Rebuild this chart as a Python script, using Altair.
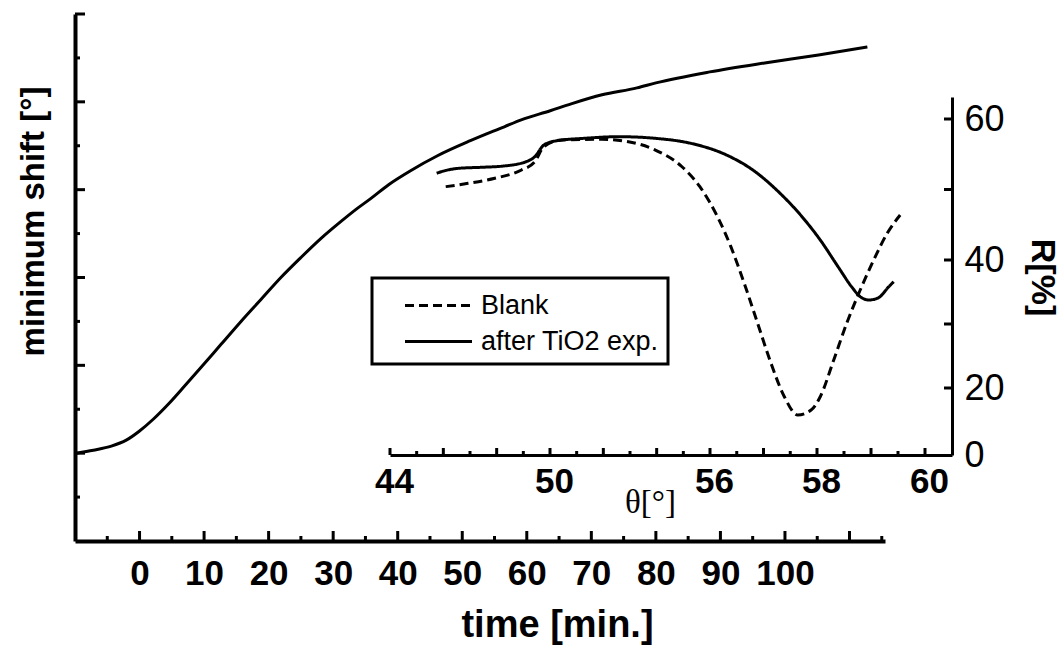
import altair as alt
import pandas as pd

# ---------------- data ----------------
# main curve: time [min.] vs minimum shift (arbitrary units, one major tick = 1)
time_min = [-9.78, -7.16, -4.37, -2.06, -0.05, 2.12, 4.59, 7.22, 9.54, 12.63, 15.72,
            18.81, 21.90, 24.99, 28.08, 31.17, 33.49, 35.81, 38.59, 41.99, 46.16,
            51.26, 56.52, 59.14, 63.63, 66.87, 71.66, 77.07, 80.01, 88.35, 96.86,
            105.20, 112.77]
min_shift = [0.000, 0.034, 0.080, 0.148, 0.250, 0.386, 0.568, 0.784, 0.977, 1.239,
             1.500, 1.750, 2.000, 2.227, 2.443, 2.636, 2.773, 2.898, 3.057, 3.216,
             3.386, 3.557, 3.716, 3.795, 3.898, 3.977, 4.080, 4.159, 4.216, 4.341,
             4.443, 4.534, 4.625]

# inset: reflectivity R[%] vs angle theta[deg]
theta_after = [45.75, 45.92, 46.59, 47.43, 48.26, 49.10, 49.43, 49.77, 50.26, 51.28,
               52.61, 53.94, 55.28, 56.31, 56.80, 57.31, 57.72, 58.06, 58.39, 58.64,
               58.80, 58.96, 59.13, 59.33, 59.42]
R_after = [52.30, 52.52, 53.01, 53.15, 53.33, 53.94, 54.65, 56.31, 56.92, 57.26,
           57.49, 57.26, 56.55, 54.89, 52.77, 49.46, 46.14, 42.84, 38.95, 35.83,
           34.27, 33.75, 34.06, 35.83, 36.61]
theta_blank = [46.09, 46.93, 47.93, 48.93, 49.43, 49.77, 50.44, 51.94, 52.94, 53.95,
               54.95, 55.62, 56.14, 56.39, 56.64, 56.89, 57.14, 57.39, 57.64, 57.89,
               58.06, 58.31, 58.55, 58.80, 59.05, 59.30, 59.54]
R_blank = [50.40, 50.88, 51.59, 52.77, 53.94, 56.07, 57.02, 57.12, 56.78, 55.60,
           53.23, 50.40, 46.14, 41.89, 36.36, 30.11, 23.86, 17.40, 11.94, 13.43,
           17.40, 24.38, 30.11, 35.31, 40.00, 43.79, 46.38]
series_names = ["Blank", "after TiO2 exp."]

# tick values
time_labels = [0, 10, 20, 30, 40, 50, 60, 70, 80, 90, 100]
time_major = [0, 10, 20, 30, 40, 50, 60, 70, 80, 90, 100, 110]
time_minor = [-5, 5, 15, 25, 35, 45, 55, 65, 75, 85, 95, 105, 115]
shift_major = [0, 1, 2, 3, 4, 5]
shift_minor = [-0.5, 0.5, 1.5, 2.5, 3.5, 4.5]
theta_labels = [44, 50, 56, 58, 60]
theta_major = [44, 46, 48, 50, 52, 54, 56, 57, 58, 59, 60]
theta_minor = [45, 47, 49, 51, 53, 55, 56.5, 57.5, 58.5, 59.5]
R_labels = [0, 20, 40, 60]
R_ticks = [20, 30, 40, 50, 60]

# ---------------- layout / style ----------------
W, H = 810, 527
SANS = "Liberation Sans"
SERIF = "Liberation Serif"
NBSP_PAD = "\u00a0" * 6


def x_main():
    return alt.Scale(domain=[-10, 115.5], nice=False, zero=False)


def y_main():
    return alt.Scale(domain=[-1, 5], nice=False, zero=False)


# the inset axes of the figure are not evenly labelled -> piecewise scales
def x_in():
    return alt.Scale(domain=[44, 50, 56, 58, 60.5], range=[315, 475, 635, 742, 877],
                     nice=False, zero=False)


def y_in():
    return alt.Scale(domain=[0, 20, 40, 60, 63.1], range=[441, 374, 246, 105, 83],
                     nice=False, zero=False)


main_df = pd.DataFrame({"t": time_min, "s": min_shift})
main_line = alt.Chart(main_df).mark_line(
    color="black", strokeWidth=3, interpolate="monotone"
).encode(
    x=alt.X("t:Q", scale=x_main(), axis=alt.Axis(
        orient="bottom", values=time_labels, ticks=False, grid=False,
        domainColor="black", domainWidth=4, labelFlush=False, labelOverlap=False,
        labelFont=SANS, labelFontSize=35, labelFontWeight="bold", labelColor="black",
        labelPadding=15, title="time [min.]", titleFont=SANS, titleFontSize=38,
        titleFontWeight="bold", titleColor="black", titleX=482, titleY=95,
        titleBaseline="alphabetic", titleAlign="center")),
    y=alt.Y("s:Q", scale=y_main(), axis=alt.Axis(
        orient="left", labels=False, ticks=False, grid=False,
        domainColor="black", domainWidth=4, title="minimum shift [°]",
        titleFont=SANS, titleFontSize=33, titleFontWeight="bold", titleColor="black",
        titleX=-42, titleY=207, titleBaseline="middle", titleAngle=270,
        titleAlign="center")),
)


def vrule(values, scale, y0, y1, width=3):
    return alt.Chart(pd.DataFrame({"v": values})).mark_rule(
        color="black", strokeWidth=width
    ).encode(x=alt.X("v:Q", scale=scale, axis=None),
             y=alt.value(y0), y2=alt.value(y1))


def hrule(values, scale, x0, x1, width=3):
    return alt.Chart(pd.DataFrame({"v": values})).mark_rule(
        color="black", strokeWidth=width
    ).encode(y=alt.Y("v:Q", scale=scale, axis=None),
             x=alt.value(x0), x2=alt.value(x1))


inset_df = pd.concat([
    pd.DataFrame({"theta": theta_blank, "R": R_blank, "series": series_names[0]}),
    pd.DataFrame({"theta": theta_after, "R": R_after, "series": series_names[1]}),
])

inset_lines = alt.Chart(inset_df).mark_line(
    color="black", strokeWidth=3, interpolate="monotone"
).encode(
    x=alt.X("theta:Q", scale=x_in(), axis=alt.Axis(
        orient="bottom", offset=-86, values=theta_labels, ticks=False,
        grid=False, domainColor="black", domainWidth=3, labelFlush=False,
        labelOverlap=False, labelFont=SANS, labelFontSize=35, labelFontWeight="bold",
        labelColor="black", labelPadding=9, labelOffset=4, title="θ[°]",
        titleFont=SERIF, titleFontSize=33, titleFontWeight="normal",
        titleColor="black", titleX=575, titleY=47, titleBaseline="middle",
        titleAlign="center")),
    y=alt.Y("R:Q", scale=y_in(), axis=alt.Axis(
        orient="right", offset=67, values=R_labels, ticks=False,
        grid=False, domainColor="black", domainWidth=3, labelFlush=False,
        labelOverlap=False, labelFont=SANS, labelFontSize=36, labelFontWeight="normal",
        labelColor="black", labelPadding=12, title="R[%]", titleFont=SANS,
        titleFontSize=34, titleFontWeight="bold", titleColor="black",
        titleX=89, titleY=263, titleAngle=90, titleBaseline="middle",
        titleAlign="center")),
    strokeDash=alt.StrokeDash("series:N", scale=alt.Scale(
        domain=series_names, range=[[9, 5], [1, 0]]), legend=alt.Legend(
        orient="none", legendX=297, legendY=264, title=None, direction="vertical",
        symbolType="M-2,0H2", symbolSize=1122, symbolStrokeWidth=3,
        symbolStrokeColor="black", labelFont=SANS, labelFontSize=27,
        labelColor="black", labelOffset=24, symbolOffset=39, rowPadding=4,
        padding=9, strokeColor="black", labelLimit=600,
        labelExpr="datum.label + '" + NBSP_PAD + "'")),
)

chart = alt.layer(
    main_line,
    vrule(time_major, x_main(), H, H - 10),
    vrule(time_minor, x_main(), H, H - 5),
    hrule(shift_major, y_main(), 0, 10),
    hrule(shift_minor, y_main(), 0, 5),
    inset_lines,
    vrule(theta_major, x_in(), 441, 434),
    vrule(theta_minor, x_in(), 441, 437),
    hrule(R_ticks, y_in(), 877, 869),
).resolve_scale(
    x="independent", y="independent"
).properties(
    width=W, height=H,
    autosize=alt.AutoSizeParams(type="none"),
    padding={"left": 75, "top": 14, "right": 1064 - 75 - W, "bottom": 645 - 14 - H},
    background="white",
).configure_view(stroke=None).configure_legend(strokeWidth=3)

chart.save("out.html", embed_options={"renderer": "svg", "actions": False})
